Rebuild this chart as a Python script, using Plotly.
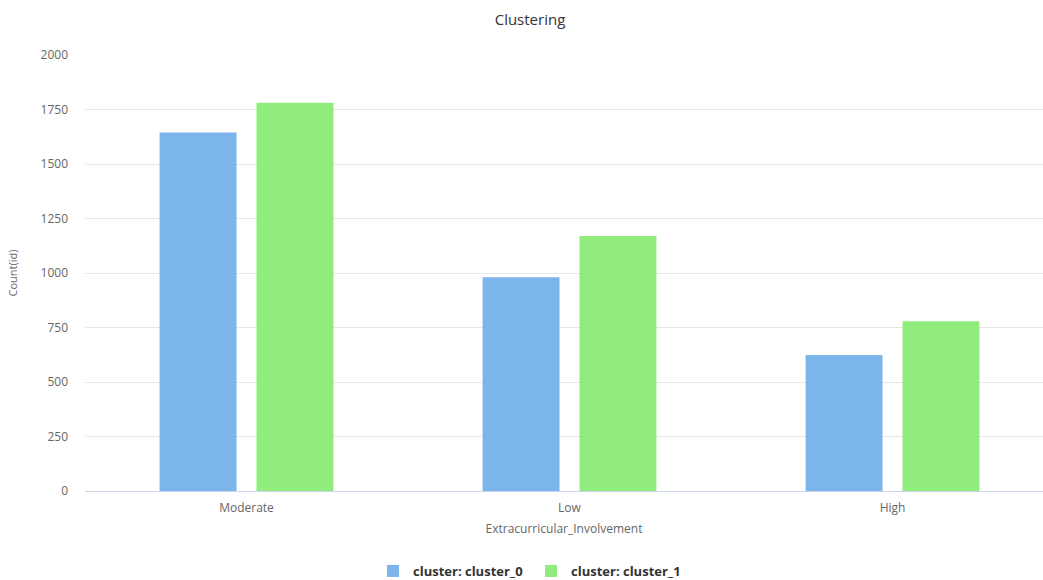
import plotly.graph_objects as go

categories = ["Moderate", "Low", "High"]
cluster_0 = [1644, 981, 624]
cluster_1 = [1781, 1170, 779]
series_names = ["cluster: cluster_0", "cluster: cluster_1"]
series_colors = ["#7cb5ec", "#90ed7d"]
y_ticks = [0, 250, 500, 750, 1000, 1250, 1500, 1750, 2000]

W, H = 1043, 580
L, T, B = 85, 55, 89
plot_w = W - L
plot_h = H - T - B
cat_px = 323  # pixel width per category slot

fig = go.Figure()
for name, vals, col in zip(series_names, [cluster_0, cluster_1], series_colors):
    fig.add_trace(go.Bar(
        x=categories, y=vals, name=name,
        marker=dict(color=col, line=dict(width=0)),
        hoverinfo="skip",
    ))

font_family = "Open Sans, Lato, sans-serif"

fig.update_layout(
    width=W, height=H,
    margin=dict(l=L, r=0, t=T, b=B, pad=0),
    paper_bgcolor="white", plot_bgcolor="white",
    barmode="group", bargap=0.4, bargroupgap=0.206,
    font=dict(family=font_family, color="#666666", size=11),
    title=dict(text="Clustering", x=530 / W, xanchor="center",
               y=1 - 20 / H, yanchor="middle",
               font=dict(size=15, color="#333333", family=font_family)),
    xaxis=dict(
        type="category", automargin=False,
        range=[-0.5, -0.5 + plot_w / cat_px],
        showgrid=False, zeroline=False,
        showline=True, linecolor="#ccd6eb", linewidth=1,
        ticks="", ticklabelstandoff=6,
        tickfont=dict(size=12, color="#666666"),
        title=dict(text="Extracurricular_Involvement", standoff=9,
                   font=dict(size=12, color="#666666")),
    ),
    yaxis=dict(
        range=[0, 2000], tickvals=y_ticks, automargin=False,
        showgrid=True, gridcolor="#e6e6e6", gridwidth=1,
        zeroline=False, showline=False, ticks="",
        ticklabelstandoff=16,
        tickfont=dict(size=12, color="#666666"),
        title=dict(text="Count(id)", standoff=20,
                   font=dict(size=11, color="#666666")),
    ),
    legend=dict(
        orientation="h",
        xref="paper", x=(531 - L) / plot_w, xanchor="center",
        yref="container", y=1 - 571 / H, yanchor="middle",
        font=dict(size=13, color="#333333", family=font_family, weight="bold"),
        itemwidth=30, tracegroupgap=0,
        entrywidth=113, entrywidthmode="pixels",
    ),
    showlegend=True,
)

fig.write_html("out.html")
